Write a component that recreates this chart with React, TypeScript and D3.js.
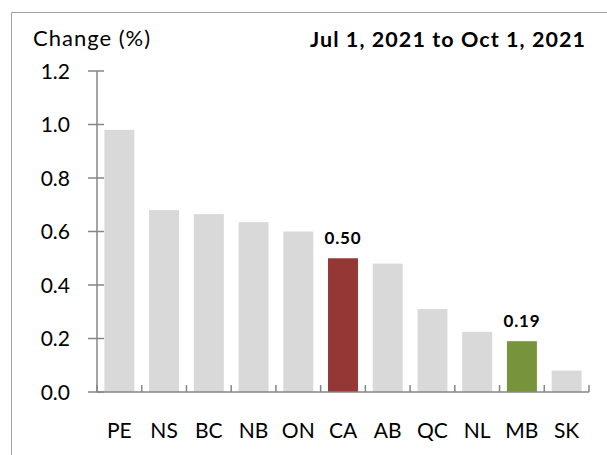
import { useEffect, useRef } from "react";
import * as d3 from "d3";

// provinces sorted by change, CA is the national figure
const categories = ["PE", "NS", "BC", "NB", "ON", "CA", "AB", "QC", "NL", "MB", "SK"];
const changes = [0.98, 0.68, 0.665, 0.635, 0.6, 0.5, 0.48, 0.31, 0.225, 0.19, 0.08];
const yTicks = [0, 0.2, 0.4, 0.6, 0.8, 1.0, 1.2];
const labelled = ["CA", "MB"];
const yTitle = "Change (%)";
const period = "Jul 1, 2021 to Oct 1, 2021";

const W = 607;
const H = 455;
const FONT = "Lato, 'Open Sans', sans-serif";

function barColor(c: string) {
  if (c === "CA") return "#953735";
  if (c === "MB") return "#77933c";
  return "#d9d9d9";
}

export default function App() {
  const svgRef = useRef<SVGSVGElement | null>(null);

  useEffect(() => {
    if (!svgRef.current) return;
    const svg = d3.select(svgRef.current);
    svg.selectAll("*").remove();

    const left = 97, right = 589, top = 71, bottom = 392;

    const x = d3.scaleBand().domain(categories).range([left, right]).paddingInner(0.33).paddingOuter(0.165);
    const y = d3.scaleLinear().domain([0, 1.2]).range([bottom, top]);

    // outer frame (only left and top edges visible)
    svg.append("path")
      .attr("d", `M11.5,${H} L11.5,12.5 L${W},12.5`)
      .attr("fill", "none")
      .attr("stroke", "#a0a0a0")
      .attr("stroke-width", 1);

    // bars
    svg.append("g")
      .selectAll("rect")
      .data(categories)
      .join("rect")
      .attr("x", (d) => x(d)!)
      .attr("width", x.bandwidth())
      .attr("y", (d, i) => y(changes[i]))
      .attr("height", (d, i) => bottom - y(changes[i]))
      .attr("fill", (d) => barColor(d));

    // value labels for highlighted bars
    svg.append("g")
      .selectAll("text")
      .data(categories.filter((c) => labelled.includes(c)))
      .join("text")
      .attr("x", (d) => x(d)! + x.bandwidth() / 2)
      .attr("y", (d) => y(changes[categories.indexOf(d)]) - 14)
      .attr("text-anchor", "middle")
      .attr("font-family", FONT)
      .attr("font-weight", "bold")
      .attr("font-size", 17)
      .attr("letter-spacing", 0.8)
      .attr("fill", "#000")
      .text((d) => changes[categories.indexOf(d)].toFixed(2));

    const axisColor = "#868686";

    // y axis
    const yAxis = svg.append("g");
    yAxis.append("line")
      .attr("x1", left).attr("x2", left)
      .attr("y1", top).attr("y2", bottom)
      .attr("stroke", axisColor).attr("stroke-width", 1.5);
    yAxis.selectAll("line.tick")
      .data(yTicks)
      .join("line")
      .attr("class", "tick")
      .attr("x1", left - 9).attr("x2", left + 7)
      .attr("y1", (d) => y(d)).attr("y2", (d) => y(d))
      .attr("stroke", axisColor).attr("stroke-width", 1.5);
    yAxis.selectAll("text")
      .data(yTicks)
      .join("text")
      .attr("x", 70)
      .attr("y", (d) => y(d) + 7.5)
      .attr("text-anchor", "end")
      .attr("font-family", FONT)
      .attr("font-size", 21)
      .attr("fill", "#000")
      .text((d) => d.toFixed(1));

    // x axis
    const step = x.step();
    const bounds = d3.range(categories.length + 1).map((i) => left + i * step);
    const xAxis = svg.append("g");
    xAxis.append("line")
      .attr("x1", left).attr("x2", right)
      .attr("y1", bottom).attr("y2", bottom)
      .attr("stroke", axisColor).attr("stroke-width", 1.5);
    xAxis.selectAll("line.tick")
      .data(bounds)
      .join("line")
      .attr("class", "tick")
      .attr("x1", (d) => d).attr("x2", (d) => d)
      .attr("y1", bottom).attr("y2", bottom - 7)
      .attr("stroke", axisColor).attr("stroke-width", 1.5);
    xAxis.selectAll("text")
      .data(categories)
      .join("text")
      .attr("x", (d) => x(d)! + x.bandwidth() / 2)
      .attr("y", 438)
      .attr("text-anchor", "middle")
      .attr("font-family", FONT)
      .attr("font-size", 21)
      .attr("fill", "#000")
      .text((d) => d);

    // titles
    svg.append("text")
      .attr("x", 33).attr("y", 46)
      .attr("font-family", FONT)
      .attr("font-size", 22)
      .attr("textLength", 117)
      .attr("lengthAdjust", "spacing")
      .attr("fill", "#000")
      .text(yTitle);

    svg.append("text")
      .attr("x", 310).attr("y", 47)
      .attr("font-family", FONT)
      .attr("font-weight", "bold")
      .attr("font-size", 21.5)
      .attr("textLength", 275)
      .attr("lengthAdjust", "spacing")
      .attr("fill", "#000")
      .text(period);
  }, []);

  return (
    <svg
      ref={svgRef}
      width={W}
      height={H}
      style={{ position: "absolute", left: 0, top: 0, background: "#fff" }}
    />
  );
}
